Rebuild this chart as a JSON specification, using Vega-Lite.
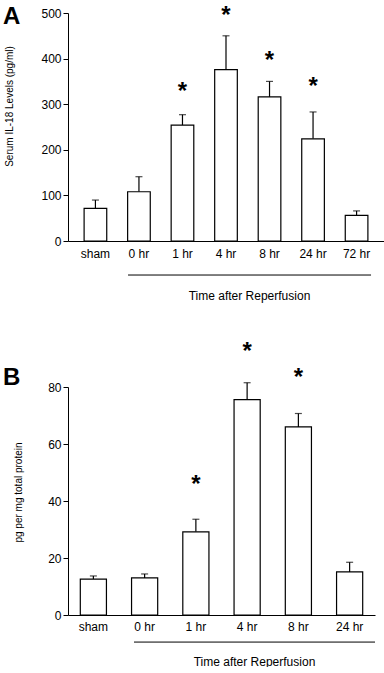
{
  "$schema": "https://vega.github.io/schema/vega-lite/v6.json",
  "padding": {"left": 2, "top": 3, "right": 0, "bottom": 0},
  "spacing": 38,
  "config": {
    "view": {"stroke": null},
    "font": "Liberation Sans",
    "axis": {"domainColor": "black", "tickColor": "black", "labelColor": "black", "titleColor": "black", "labelFont": "Liberation Sans", "titleFont": "Liberation Sans", "titleFontWeight": "normal", "grid": false}
  },
  "vconcat": [
    {
      "width": 316,
      "height": 228,
      "data": {"values": [
        {"t": "sham", "v": 71.5, "e": 89.8, "s": null},
        {"t": "0 hr", "v": 108, "e": 141, "s": null},
        {"t": "1 hr", "v": 254, "e": 277, "s": 353},
        {"t": "4 hr", "v": 376, "e": 450, "s": 520},
        {"t": "8 hr", "v": 316, "e": 350, "s": 422},
        {"t": "24 hr", "v": 224, "e": 283, "s": 365},
        {"t": "72 hr", "v": 56, "e": 66, "s": null}
      ]},
      "layer": [
        {
          "encoding": {
            "x": {"field": "t", "type": "nominal", "sort": null,
              "scale": {"paddingInner": 0.48, "paddingOuter": 0.37},
              "axis": {"title": "Time after Reperfusion", "labelAngle": 0, "ticks": false, "labelPadding": 7, "labelFontSize": 12, "titleFontSize": 12, "titlePadding": 31, "titleX": 181}}
          },
          "layer": [
            {"mark": {"type": "rule", "color": "black", "strokeWidth": 1.2},
             "encoding": {"y": {"field": "v", "type": "quantitative", "title": "Serum IL-18 Levels (pg/ml)", "scale": {"domain": [0, 500]}}, "y2": {"field": "e"}}},
            {"mark": {"type": "tick", "orient": "horizontal", "size": 7, "thickness": 1.2, "color": "black"},
             "encoding": {"y": {"field": "e", "type": "quantitative", "title": "Serum IL-18 Levels (pg/ml)", "scale": {"domain": [0, 500]}}}},
            {"mark": {"type": "bar", "fill": "white", "stroke": "black", "strokeWidth": 1.2},
             "encoding": {"y": {"field": "v", "type": "quantitative", "title": "Serum IL-18 Levels (pg/ml)", "scale": {"domain": [0, 500]},
               "axis": {"values": [0, 100, 200, 300, 400, 500], "tickSize": 5, "labelPadding": 2, "labelFontSize": 12, "titleFontSize": 10, "titlePadding": 26, "titleY": 93}}}},
            {"transform": [{"filter": "datum.s != null"}],
             "mark": {"type": "text", "text": "*", "fontSize": 24, "fontWeight": "bold", "baseline": "top", "color": "black"},
             "encoding": {"y": {"field": "s", "type": "quantitative", "title": "Serum IL-18 Levels (pg/ml)", "scale": {"domain": [0, 500]}}}}
          ]
        },
        {
          "data": {"values": [{"x1": 0.19, "x2": 0.959, "y": -74.6}]},
          "mark": {"type": "rule", "color": "black", "strokeWidth": 1},
          "encoding": {
            "x": {"field": "x1", "type": "quantitative", "scale": {"domain": [0, 1], "nice": false, "zero": false}, "axis": null},
            "x2": {"field": "x2"},
            "y": {"field": "y", "type": "quantitative", "scale": {"domain": [0, 500]}, "axis": null}
          }
        },
        {
          "data": {"values": [{"lx": -0.2057, "ly": 476, "lab": "A"}]},
          "mark": {"type": "text", "fontSize": 24, "fontWeight": "bold", "align": "left", "baseline": "alphabetic", "color": "black"},
          "encoding": {
            "x": {"field": "lx", "type": "quantitative", "scale": {"domain": [0, 1], "nice": false, "zero": false}, "axis": null},
            "y": {"field": "ly", "type": "quantitative", "scale": {"domain": [0, 500]}, "axis": null},
            "text": {"field": "lab"}
          }
        }
      ],
      "resolve": {"scale": {"x": "independent", "y": "independent"}}
    },
    {
      "width": 307,
      "height": 228,
      "data": {"values": [
        {"t": "sham", "v": 12.6, "e": 13.7, "s": null},
        {"t": "0 hr", "v": 13.0, "e": 14.4, "s": null},
        {"t": "1 hr", "v": 29.2, "e": 33.6, "s": 49.8},
        {"t": "4 hr", "v": 75.6, "e": 81.5, "s": 96.6},
        {"t": "8 hr", "v": 66.0, "e": 70.7, "s": 87.5},
        {"t": "24 hr", "v": 15.1, "e": 18.5, "s": null}
      ]},
      "layer": [
        {
          "encoding": {
            "x": {"field": "t", "type": "nominal", "sort": null,
              "scale": {"paddingInner": 0.49, "paddingOuter": 0.24},
              "axis": {"title": "Time after Reperfusion", "labelAngle": 0, "ticks": false, "labelPadding": 6, "labelFontSize": 12, "titleFontSize": 12, "titlePadding": 24, "titleX": 186}}
          },
          "layer": [
            {"mark": {"type": "rule", "color": "black", "strokeWidth": 1.2},
             "encoding": {"y": {"field": "v", "type": "quantitative", "title": "pg per mg total protein", "scale": {"domain": [0, 80]}}, "y2": {"field": "e"}}},
            {"mark": {"type": "tick", "orient": "horizontal", "size": 7, "thickness": 1.2, "color": "black"},
             "encoding": {"y": {"field": "e", "type": "quantitative", "title": "pg per mg total protein", "scale": {"domain": [0, 80]}}}},
            {"mark": {"type": "bar", "fill": "white", "stroke": "black", "strokeWidth": 1.2},
             "encoding": {"y": {"field": "v", "type": "quantitative", "title": "pg per mg total protein", "scale": {"domain": [0, 80]},
               "axis": {"values": [0, 20, 40, 60, 80], "tickSize": 5, "labelPadding": 2, "labelFontSize": 12, "titleFontSize": 10, "titlePadding": 24, "titleY": 105}}}},
            {"transform": [{"filter": "datum.s != null"}],
             "mark": {"type": "text", "text": "*", "fontSize": 24, "fontWeight": "bold", "baseline": "top", "color": "black"},
             "encoding": {"y": {"field": "s", "type": "quantitative", "title": "pg per mg total protein", "scale": {"domain": [0, 80]}}}}
          ]
        },
        {
          "data": {"values": [{"x1": 0.215, "x2": 1.0, "y": -9.5}]},
          "mark": {"type": "rule", "color": "black", "strokeWidth": 1},
          "encoding": {
            "x": {"field": "x1", "type": "quantitative", "scale": {"domain": [0, 1], "nice": false, "zero": false}, "axis": null},
            "x2": {"field": "x2"},
            "y": {"field": "y", "type": "quantitative", "scale": {"domain": [0, 80]}, "axis": null}
          }
        },
        {
          "data": {"values": [{"lx": -0.2117, "ly": 80.7, "lab": "B"}]},
          "mark": {"type": "text", "fontSize": 24, "fontWeight": "bold", "align": "left", "baseline": "alphabetic", "color": "black"},
          "encoding": {
            "x": {"field": "lx", "type": "quantitative", "scale": {"domain": [0, 1], "nice": false, "zero": false}, "axis": null},
            "y": {"field": "ly", "type": "quantitative", "scale": {"domain": [0, 80]}, "axis": null},
            "text": {"field": "lab"}
          }
        }
      ],
      "resolve": {"scale": {"x": "independent", "y": "independent"}}
    }
  ]
}
